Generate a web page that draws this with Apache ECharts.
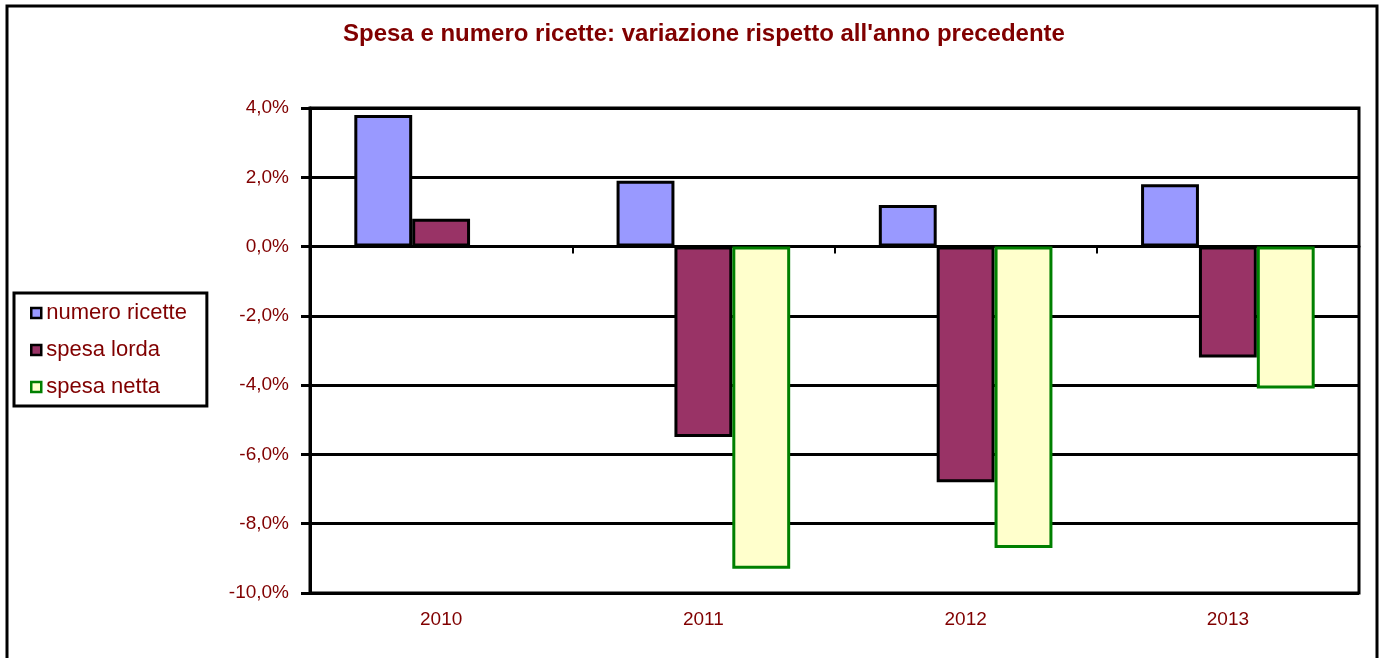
<!DOCTYPE html>
<html>
<head>
<meta charset="utf-8">
<script src="https://cdn.jsdelivr.net/npm/echarts@6/dist/echarts.min.js"></script>
<style>
html, body { margin: 0; padding: 0; background: #fff; }
#main { width: 1383px; height: 658px; }
</style>
</head>
<body>
<div id="main"></div>
<script>
var years = ['2010', '2011', '2012', '2013'];
var numeroRicette = [3.8, 1.9, 1.2, 1.8];
var spesaLorda = [0.8, -5.5, -6.8, -3.2];
var spesaNetta = ['-', -9.3, -8.7, -4.1];
var seriesNames = ['numero ricette', 'spesa lorda', 'spesa netta'];

var red = '#800000';
var fontFam = '"Liberation Sans", Arial, sans-serif';

function pct(v) {
    return v.toFixed(1).replace('.', ',') + '%';
}

option = {
    animation: false,
    backgroundColor: '#fff',
    title: {
        text: 'Spesa e numero ricette: variazione rispetto all\'anno precedente',
        left: 343,
        top: 22,
        padding: 0,
        textStyle: {
            color: red,
            fontFamily: fontFam,
            fontWeight: 'bold',
            fontSize: 24
        }
    },
    legend: {
        data: seriesNames,
        orient: 'vertical',
        left: 14,
        top: 293,
        padding: [9, 20, 8, 16],
        itemGap: 15,
        itemWidth: 10,
        itemHeight: 10,
        borderColor: '#000',
        borderWidth: 3,
        borderRadius: 0,
        icon: 'rect',
        itemStyle: { borderWidth: 2.5 },
        textStyle: {
            color: red,
            fontFamily: fontFam,
            fontSize: 22,
            padding: [0, 0, 0, 0]
        }
    },
    grid: {
        left: 310,
        right: 24,
        top: 108,
        bottom: 65,
        show: true,
        borderColor: '#000',
        borderWidth: 3
    },
    xAxis: [{
        type: 'category',
        data: years,
        position: 'bottom',
        axisLine: { show: false, onZero: false },
        axisTick: { show: false },
        axisLabel: {
            color: red,
            fontFamily: fontFam,
            fontSize: 19,
            margin: 17
        }
    }, {
        type: 'category',
        data: years,
        position: 'bottom',
        axisLine: { show: true, onZero: true, lineStyle: { color: '#000', width: 3 } },
        axisTick: { show: true, length: 7, lineStyle: { color: '#000', width: 2 } },
        axisLabel: { show: false }
    }],
    yAxis: {
        type: 'value',
        min: -10,
        max: 4,
        interval: 2,
        axisLine: { show: true, lineStyle: { color: '#000', width: 3 } },
        axisTick: { show: true, length: 9, lineStyle: { color: '#000', width: 3 } },
        splitLine: { show: true, lineStyle: { color: '#000', width: 3 } },
        axisLabel: {
            color: red,
            fontFamily: fontFam,
            fontSize: 19,
            margin: 21,
            formatter: pct
        }
    },
    series: [{
        name: seriesNames[0],
        type: 'bar',
        data: numeroRicette,
        barGap: '0%',
        barCategoryGap: '33.8%',
        itemStyle: { color: '#9999FF', borderColor: '#000', borderWidth: 3 }
    }, {
        name: seriesNames[1],
        type: 'bar',
        data: spesaLorda,
        itemStyle: { color: '#993366', borderColor: '#000', borderWidth: 3 }
    }, {
        name: seriesNames[2],
        type: 'bar',
        data: spesaNetta,
        itemStyle: { color: '#FFFFCC', borderColor: '#008000', borderWidth: 3 }
    }],
    graphic: [{
        type: 'rect',
        shape: { x: 7, y: 6, width: 1370, height: 700 },
        style: { fill: 'none', stroke: '#000', lineWidth: 3 },
        silent: true
    }]
};
var myChart = echarts.init(document.getElementById('main'));
myChart.setOption(option);
</script>
</body>
</html>
